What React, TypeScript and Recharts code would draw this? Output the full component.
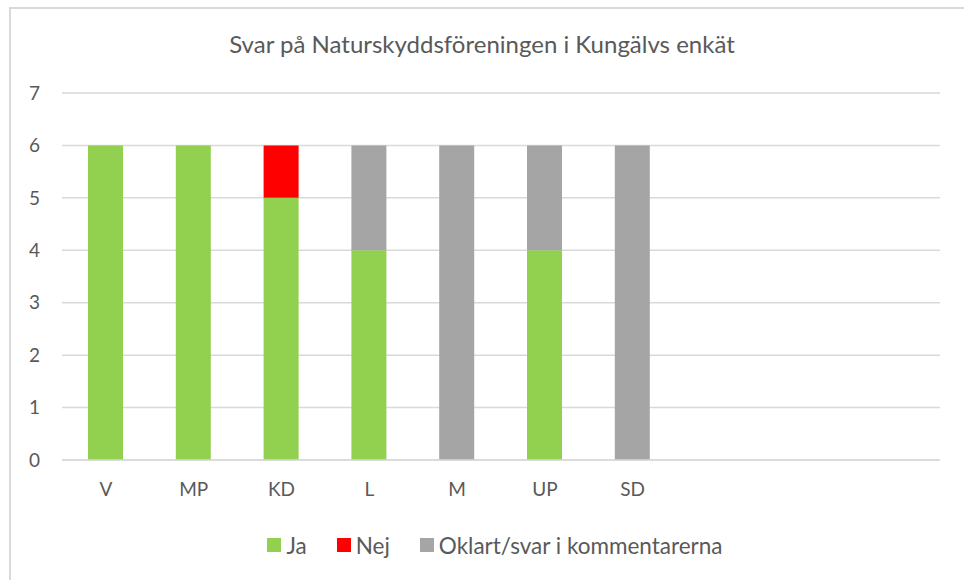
import React from 'react';
import { BarChart, Bar, XAxis, YAxis, CartesianGrid, Legend } from 'recharts';

const parties = ['V', 'MP', 'KD', 'L', 'M', 'UP', 'SD', '', ' ', '  '];
const ja = [6, 6, 5, 4, 0, 4, 0, null, null, null];
const nej = [0, 0, 1, 0, 0, 0, 0, null, null, null];
const oklart = [0, 0, 0, 2, 6, 2, 6, null, null, null];
const yTicks = [0, 1, 2, 3, 4, 5, 6, 7];

const data = parties.map((party, i) => ({ party, ja: ja[i], nej: nej[i], oklart: oklart[i] }));

const font = 'Lato, "Open Sans", sans-serif';
const textColor = '#595959';

const legendItems = [
  { label: 'Ja', color: '#92D050' },
  { label: 'Nej', color: '#FF0000' },
  { label: 'Oklart/svar i kommentarerna', color: '#A5A5A5' },
];

function ChartLegend() {
  return (
    <div style={{ display: 'flex', justifyContent: 'center', height: 24, alignItems: 'center', paddingLeft: 40, fontFamily: font, fontSize: 22.5, color: textColor }}>
      {legendItems.map((it) => (
        <div key={it.label} style={{ display: 'flex', alignItems: 'center', margin: '0 15px' }}>
          <span style={{ width: 14, height: 14, background: it.color, marginRight: 5, display: 'inline-block' }} />
          {it.label}
        </div>
      ))}
    </div>
  );
}

export default function App() {
  return (
    <div style={{ position: 'absolute', top: 0, left: 0, width: 964, height: 580, background: '#fff', overflow: 'hidden' }}>
      <div style={{ position: 'absolute', left: 9, top: 7, right: -5, bottom: -5, borderTop: '2px solid #D9D9D9', borderLeft: '2px solid #D9D9D9' }} />
      <div style={{ position: 'absolute', top: 29, left: 0, width: 964, textAlign: 'center', fontFamily: font, fontSize: 24, color: textColor }}>
        Svar på Naturskyddsföreningen i Kungälvs enkät
      </div>
      <BarChart width={964} height={580} data={data} margin={{ top: 93, right: 24, left: 10, bottom: 23 }} barSize={35} style={{ position: 'absolute', top: 0, left: 0 }}>
        <CartesianGrid vertical={false} stroke="#D9D9D9" strokeWidth={1.5} />
        <XAxis dataKey="party" axisLine={{ stroke: '#D9D9D9', strokeWidth: 1.5 }} tickLine={false} height={73} tickMargin={17}
          tick={{ fill: textColor, fontSize: 19, fontFamily: font }} />
        <YAxis domain={[0, 7]} ticks={yTicks} width={52} axisLine={false} tickLine={false} tickMargin={16}
          tick={{ fill: textColor, fontSize: 19, fontFamily: font }} />
        <Legend verticalAlign="bottom" content={() => <ChartLegend />} />
        <Bar dataKey="ja" stackId="a" fill="#92D050" isAnimationActive={false} name="Ja" />
        <Bar dataKey="nej" stackId="a" fill="#FF0000" isAnimationActive={false} name="Nej" />
        <Bar dataKey="oklart" stackId="a" fill="#A5A5A5" isAnimationActive={false} name="Oklart/svar i kommentarerna" />
      </BarChart>
    </div>
  );
}
